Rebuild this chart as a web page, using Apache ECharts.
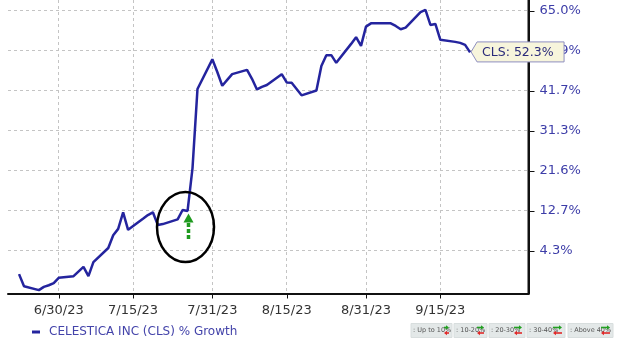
<!DOCTYPE html>
<html><head><meta charset="utf-8">
<script src="https://cdn.jsdelivr.net/npm/echarts@6/dist/echarts.min.js"></script>
<style>html,body{margin:0;padding:0;background:#fff}#c{width:620px;height:343px}</style>
</head><body><div id="c"></div>
<script>
// ---- data ----
const dates = ['6/22/23','6/23/23','6/26/23','6/27/23','6/28/23','6/29/23','6/30/23',
 '7/3/23','7/5/23','7/6/23','7/7/23','7/10/23','7/11/23','7/12/23','7/13/23','7/14/23',
 '7/17/23','7/18/23','7/19/23','7/20/23','7/21/23','7/24/23','7/25/23','7/26/23','7/27/23','7/28/23',
 '7/31/23','8/1/23','8/2/23','8/3/23','8/4/23','8/7/23','8/8/23','8/9/23','8/10/23','8/11/23',
 '8/14/23','8/15/23','8/16/23','8/17/23','8/18/23','8/21/23','8/22/23','8/23/23','8/24/23','8/25/23',
 '8/28/23','8/29/23','8/30/23','8/31/23','9/1/23','9/5/23','9/6/23','9/7/23','9/8/23',
 '9/11/23','9/12/23','9/13/23','9/14/23','9/15/23','9/18/23','9/19/23','9/20/23','9/21/23'];
const growth = [-0.3,-2.6,-3.3,-2.7,-2.4,-2.0,-1.0,
 -0.7,1.1,-0.7,2.0,4.8,7.4,8.7,12.2,8.5,
 10.8,11.6,12.2,9.5,9.7,10.7,12.7,12.5,22.1,42.0,
 50.3,46.7,42.9,44.5,46.1,47.3,44.8,41.9,42.6,43.1,
 46.1,43.8,43.7,42.0,40.3,41.6,48.4,51.5,51.5,49.3,
 54.8,56.8,54.2,60.0,61.0,61.0,60.2,59.2,59.7,
 64.5,65.2,60.5,60.8,56.0,55.4,55.1,54.5,52.3];
const tickLabels = ['4.3%','12.7%','21.6%','31.3%','41.7%','52.9%','65.0%'];
const tickGrowth = [4.3,12.7,21.6,31.3,41.7,52.9,65.0];
const xTickDates = ['6/30/23','7/15/23','7/31/23','8/15/23','8/31/23','9/15/23'];
const seriesName = 'CELESTICA INC (CLS) % Growth';
const lastLabel = 'CLS: 52.3%';
const bandLabels = [': Up to 10%', ': 10-20%', ': 20-30%', ': 30-40%', ': Above 40%'];

// ---- scales ----
function dayNum(s){const p=s.split('/');return Date.UTC(2000+ +p[2],+p[0]-1,+p[1])/86400000;}
const base = dayNum('6/30/23');
const L0 = Math.log(1+tickGrowth[0]/100);
const STEP = (Math.log(1+tickGrowth[tickGrowth.length-1]/100)-L0)/(tickGrowth.length-1);
function u(g){return (Math.log(1+g/100)-L0)/STEP;}
const seriesData = dates.map((d,i)=>[dayNum(d)-base, u(growth[i])]);
const xTicks = xTickDates.map(d=>dayNum(d)-base);
const xLabelMap = {}; xTicks.forEach((v,i)=>xLabelMap[v]=xTickDates[i]);
const yTicks = tickLabels.map((_,i)=>i);

const FONT = 'DejaVu Sans';
const chart = echarts.init(document.getElementById('c'));

// legend band boxes (bottom right)
const boxes = [[411,452],[454,487],[489,525],[527,565],[568,613]];
const arrowLen = [5,7,8,9,9];
const bandGraphics = [];
boxes.forEach((b,i)=>{
  bandGraphics.push({type:'rect',shape:{x:b[0],y:323.5,width:b[1]-b[0],height:14},style:{fill:'#e3e8e8',stroke:'#d8dede',lineWidth:1},silent:true});
  bandGraphics.push({type:'text',x:b[0]+2,y:330.5,style:{text:bandLabels[i],font:'6.5px '+FONT,fill:'#555',verticalAlign:'middle'},silent:true});
  const r=b[1]-3, l=r-arrowLen[i];
  bandGraphics.push({type:'line',shape:{x1:l,y1:327.5,x2:r-2,y2:327.5},style:{stroke:'#22a022',lineWidth:1.6},silent:true});
  bandGraphics.push({type:'polygon',shape:{points:[[r,327.5],[r-3,325.3],[r-3,329.7]]},style:{fill:'#22a022'},silent:true});
  bandGraphics.push({type:'line',shape:{x1:l+2,y1:333,x2:r,y2:333},style:{stroke:'#e02828',lineWidth:1.6},silent:true});
  bandGraphics.push({type:'polygon',shape:{points:[[l,333],[l+3,330.8],[l+3,335.2]]},style:{fill:'#e02828'},silent:true});
});

const option = {
  animation:false,
  backgroundColor:'#fff',
  grid:{left:8,right:91.5,top:0,bottom:49.5,containLabel:false},
  legend:{show:true,left:27,top:321,icon:'rect',itemWidth:8,itemHeight:3,
    textStyle:{fontFamily:FONT,fontSize:12,color:'#4444aa',padding:[0,0,0,4]},
    data:[seriesName]},
  xAxis:{type:'value',position:'bottom',min:-10.23,max:94.79,
    axisLine:{show:true,onZero:false,lineStyle:{color:'#111',width:2}},
    axisTick:{show:false,customValues:xTicks},
    axisLabel:{customValues:xTicks,margin:11,fontFamily:FONT,fontSize:13,color:'#333',
      formatter:v=>xLabelMap[v]||''},
    splitLine:{show:true,lineStyle:{color:'#c4c4c4',type:[3,3],width:1}}},
  yAxis:{type:'value',position:'right',min:-1.075,max:6.2625,
    axisLine:{show:true,onZero:false,lineStyle:{color:'#111',width:2}},
    axisTick:{show:false,customValues:yTicks},
    axisLabel:{customValues:yTicks,margin:11,fontFamily:FONT,fontSize:13,color:'#3d3da8',
      formatter:v=>tickLabels[Math.round(v)]||''},
    splitLine:{show:true,lineStyle:{color:'#c4c4c4',type:[3,3],width:1}}},
  series:[{name:seriesName,type:'line',data:seriesData,showSymbol:false,clip:false,
    lineStyle:{color:'#24249e',width:2.5},itemStyle:{color:'#24249e'},z:5}],
  graphic:[]
};
chart.setOption(option);

// axis line and tick marks, positioned through the axes' own scales
const tickG = [];
const yAxisX = chart.convertToPixel({gridIndex:0},[94.79,0])[0];
const xAxisY = chart.convertToPixel({gridIndex:0},[0,-1.075])[1];
tickG.push({type:'line',shape:{x1:yAxisX,y1:0,x2:yAxisX,y2:xAxisY+1},style:{stroke:'#111',lineWidth:2},z:45,silent:true});
yTicks.forEach(t=>{const yy=Math.round(chart.convertToPixel({gridIndex:0},[0,t])[1])+0.5;
  tickG.push({type:'line',shape:{x1:yAxisX,y1:yy,x2:yAxisX+6,y2:yy},style:{stroke:'#111',lineWidth:1},z:45,silent:true});});
xTicks.forEach(t=>{const xx=Math.round(chart.convertToPixel({gridIndex:0},[t,0])[0])+0.5;
  tickG.push({type:'line',shape:{x1:xx,y1:xAxisY,x2:xx,y2:xAxisY+5},style:{stroke:'#111',lineWidth:1},z:45,silent:true});});

const last = seriesData[seriesData.length-1];
const p = chart.convertToPixel({gridIndex:0}, last);
const px = p[0]+1, py = p[1]-0.5;
const g = [
  {type:'ellipse',shape:{cx:185.5,cy:227,rx:28.5,ry:35},style:{fill:'none',stroke:'#000',lineWidth:2.5},z:50,silent:true},
  {type:'polygon',shape:{points:[[188.5,213.5],[183.5,222.5],[193.5,222.5]]},style:{fill:'#1f9a1f'},z:50,silent:true},
  {type:'line',shape:{x1:188.5,y1:223,x2:188.5,y2:241},style:{stroke:'#1f9a1f',lineWidth:3.5,lineDash:[4,2]},z:50,silent:true},
  {type:'polygon',shape:{points:[[px,py],[px+6,py-10],[px+93,py-10],[px+93,py+10],[px+6,py+10]]},
    style:{fill:'#f7f5dc',stroke:'#8f8fc0',lineWidth:1},z:60,silent:true},
  {type:'text',x:px+11,y:py+0.5,style:{text:lastLabel,font:'12.5px '+FONT,fill:'#2b2b7a',verticalAlign:'middle'},z:61,silent:true}
].concat(tickG).concat(bandGraphics.map(e=>Object.assign({z:40},e)));
chart.setOption({graphic:g});
</script></body></html>
